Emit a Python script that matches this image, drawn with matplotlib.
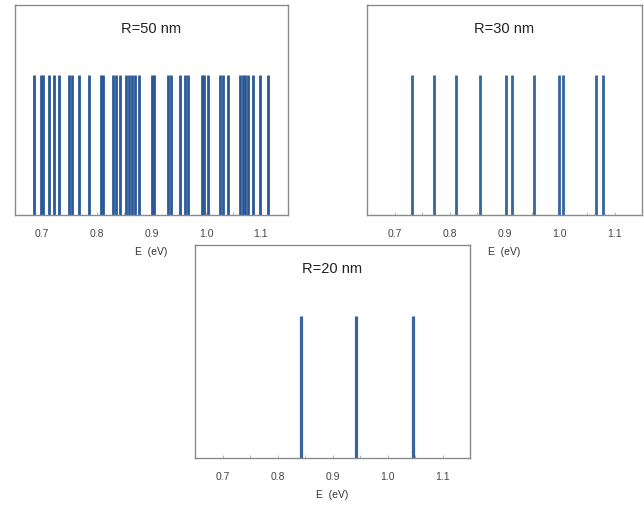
import matplotlib
matplotlib.use("Agg")
import matplotlib.pyplot as plt
from matplotlib.ticker import MultipleLocator

plt.rcParams['font.family'] = ['Liberation Sans', 'DejaVu Sans']

# Energy levels (eV)
levels_50nm = [0.685, 0.697, 0.702, 0.713, 0.722, 0.730, 0.748, 0.754, 0.768,
               0.785, 0.808, 0.812, 0.829, 0.835, 0.843, 0.853, 0.858, 0.864,
               0.870, 0.878, 0.900, 0.905, 0.931, 0.936, 0.952, 0.962, 0.966,
               0.992, 0.997, 1.004, 1.026, 1.031, 1.040, 1.062, 1.067, 1.071,
               1.076, 1.085, 1.099, 1.114]
levels_30nm = [0.731, 0.771, 0.811, 0.855, 0.902, 0.913, 0.953, 0.999, 1.007,
               1.067, 1.079]
levels_20nm = [0.843, 0.942, 1.046]

titles = ["R=50 nm", "R=30 nm", "R=20 nm"]
tick_values = [0.7, 0.8, 0.9, 1.0, 1.1]
tick_labels = ["0.7", "0.8", "0.9", "1.0", "1.1"]
xlabel = "E  (eV)"

fig = plt.figure(figsize=(6.44, 5.14), dpi=100)
W, H = 644, 514

def box(l, t, r, b):
    return [l / W, (H - b) / H, (r - l) / W, (b - t) / H]

positions = [box(15, 5, 288, 215), box(367, 5, 642, 215), box(195, 245, 470, 458)]
data = [levels_50nm, levels_30nm, levels_20nm]
widths = [2.0, 2.0, 2.3]
colors = ['#2a5997', '#36659f', '#36659f']

for pos, lev, title, lw, c in zip(positions, data, titles, widths, colors):
    ax = fig.add_axes(pos)
    ax.vlines(lev, 0, 1, colors=c, linewidth=lw)
    ax.set_xlim(0.65, 1.15)
    ax.set_ylim(0, 1.5)
    ax.set_yticks([])
    ax.set_xticks(tick_values)
    ax.set_xticklabels(tick_labels, fontsize=7.5, color='#444444')
    ax.xaxis.set_minor_locator(MultipleLocator(0.05))
    ax.tick_params(axis='x', which='both', length=2, width=0.6, color='#aaaaaa',
                   direction='in', pad=10)
    for s in ax.spines.values():
        s.set_color('#8a8a8a')
        s.set_linewidth(1.0)
    ax.text(0.5, 0.888, title, transform=ax.transAxes, ha='center', va='center',
            fontsize=10.5, color='#222222')
    ax.set_xlabel(xlabel, fontsize=7.5, color='#333333', labelpad=6)

fig.savefig("out.png", dpi=100, facecolor='white')
